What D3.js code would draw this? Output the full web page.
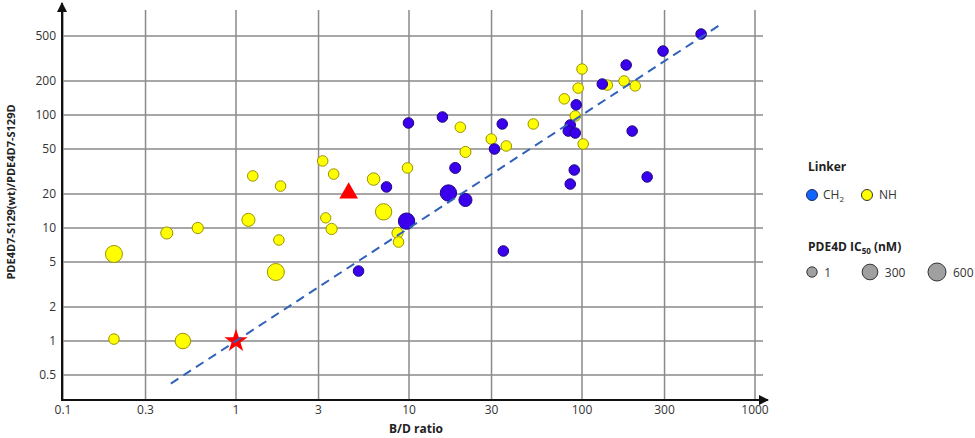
<!DOCTYPE html>
<html>
<head>
<meta charset="utf-8">
<script src="https://cdn.jsdelivr.net/npm/d3@7"></script>
<style>
  body { margin: 0; background: #fff; }
  svg { font-family: "Open Sans", "Noto Sans", sans-serif; }
</style>
</head>
<body>
<div id="chart"></div>
<script>
// B/D ratio, selectivity ratio, IC50 (nM)
var nhX  = [3.17, 3.67, 1.25, 1.81, 6.24, 7.13, 0.197, 0.398, 0.601, 1.18, 1.77, 1.70, 3.30, 3.57, 0.197, 0.493,
            8.58, 8.70, 100, 140, 175, 203, 95, 79, 91.4, 19.8, 52.3, 101.6, 29.9, 36.5, 21.2, 9.8];
var nhY  = [39.2, 30.0, 28.9, 23.5, 27.1, 13.9, 5.89, 9.03, 10.0, 11.8, 7.83, 4.08, 12.3, 9.8, 1.04, 1.0,
            9.03, 7.52, 255, 184, 200, 181, 173, 139, 98, 78, 83.3, 55.4, 61.3, 53.2, 47.1, 34.0];
var nhIC = [3, 3, 3, 3, 60, 380, 460, 40, 15, 90, 3, 460, 1, 15, 3, 280,
            12, 3, 3, 3, 3, 3, 3, 3, 3, 3, 3, 3, 3, 3, 10, 3];

var ch2X  = [488, 294, 180, 131, 92.6, 9.93, 15.6, 34.6, 85.5, 83.3, 91.4, 195, 31.2, 18.5, 90.2, 85.5,
             238, 7.41, 16.9, 21.2, 9.68, 35.1, 5.11];
var ch2Y  = [521, 368, 277, 188, 123, 85, 96, 83.3, 81.6, 72.1, 69.3, 72.1, 50.0, 34.0, 32.6, 24.5,
             28.3, 23.1, 20.4, 17.7, 11.5, 6.26, 4.16];
var ch2IC = [3, 3, 3, 3, 3, 3, 3, 3, 3, 3, 3, 3, 3, 10, 3, 3,
             3, 3, 380, 90, 380, 3, 3];

var refStar = [1, 1];
var refTriangle = [4.48, 20.8];
var trendX = [0.42, 650];

var xTicks = [0.1, 0.3, 1, 3, 10, 30, 100, 300, 1000];
var yTicks = [0.5, 1, 2, 5, 10, 20, 50, 100, 200, 500];
var sizeLegend = [1, 300, 600];

var width = 975, height = 438;
var x0 = 62, x1 = 755, yBottom = 400;

var x = d3.scaleLog().domain([0.1, 1000]).range([x0 + 1, x1]);
var y = d3.scaleLog().domain([1, 10]).range([341, 228]);
var r = d3.scaleSqrt().domain([0, 600]).range([5, 9]);

var svg = d3.select('#chart')
.append('svg')
  .attr('width', width)
  .attr('height', height);

// grid
svg.append('g').selectAll('line')
  .data(xTicks).enter()
.append('line')
  .attr('x1', function(d) { return x(d); })
  .attr('x2', function(d) { return x(d); })
  .attr('y1', 10)
  .attr('y2', yBottom)
  .style('stroke', '#8a8a8a')
  .style('stroke-width', 1.5);

svg.append('g').selectAll('line')
  .data(yTicks).enter()
.append('line')
  .attr('x1', x0)
  .attr('x2', 763)
  .attr('y1', function(d) { return y(d); })
  .attr('y2', function(d) { return y(d); })
  .style('stroke', '#8a8a8a')
  .style('stroke-width', 1.5);

// axes with arrows
var defs = svg.append('defs');
defs.append('marker')
  .attr('id', 'arrow')
  .attr('viewBox', '0 0 10 10')
  .attr('refX', 9).attr('refY', 5)
  .attr('markerWidth', 5).attr('markerHeight', 5)
  .attr('orient', 'auto')
.append('path')
  .attr('d', 'M0,0 L10,5 L0,10 Z')
  .style('fill', '#111');

svg.append('line')
  .attr('x1', x0).attr('x2', x0)
  .attr('y1', yBottom + 1).attr('y2', 3)
  .style('stroke', '#111').style('stroke-width', 2)
  .attr('marker-end', 'url(#arrow)');
svg.append('line')
  .attr('x1', x0 - 1).attr('x2', 768)
  .attr('y1', yBottom).attr('y2', yBottom)
  .style('stroke', '#111').style('stroke-width', 2)
  .attr('marker-end', 'url(#arrow)');

// tick labels
svg.append('g').selectAll('text')
  .data(xTicks).enter()
.append('text')
  .attr('x', function(d) { return x(d); })
  .attr('y', 414)
  .attr('text-anchor', 'middle')
  .style('font-size', '12px')
  .style('fill', '#333')
  .text(function(d) { return d; });

svg.append('g').selectAll('text')
  .data(yTicks).enter()
.append('text')
  .attr('x', 56)
  .attr('y', function(d) { return y(d) + 4; })
  .attr('text-anchor', 'end')
  .style('font-size', '12px')
  .style('fill', '#333')
  .text(function(d) { return d; });

// axis titles
svg.append('text')
  .attr('x', 389).attr('y', 433)
  .style('font-size', '12px').style('font-weight', 'bold')
  .style('fill', '#222')
  .text('B/D ratio');

svg.append('text')
  .attr('transform', 'translate(15,192) rotate(-90)')
  .attr('text-anchor', 'middle')
  .style('font-size', '11px').style('font-weight', 'bold')
  .style('fill', '#222')
  .text('PDE4D7-S129(wt)/PDE4D7-S129D');

// points
function drawPoints(xs, ys, ics, fill, stroke) {
  svg.append('g').selectAll('circle')
    .data(xs).enter()
  .append('circle')
    .attr('cx', function(d) { return x(d); })
    .attr('cy', function(d, i) { return y(ys[i]); })
    .attr('r', function(d, i) { return r(ics[i]); })
    .style('fill', fill)
    .style('stroke', stroke)
    .style('stroke-width', 1);
}
drawPoints(nhX, nhY, nhIC, '#ffff00', '#9a9400');
drawPoints(ch2X, ch2Y, ch2IC, '#3a00ee', '#1c0a80');

// reference compounds
svg.append('path')
  .attr('transform', 'translate(' + x(refStar[0]) + ',' + y(refStar[1]) + ')')
  .attr('d', d3.symbol().type(d3.symbolStar).size(170))
  .style('fill', '#ff0000');
svg.append('path')
  .attr('transform', 'translate(' + x(refTriangle[0]) + ',' + (y(refTriangle[1]) + 1) + ')')
  .attr('d', d3.symbol().type(d3.symbolTriangle).size(150))
  .style('fill', '#ff0000');

// y = x trend line
svg.append('line')
  .attr('x1', x(trendX[0])).attr('y1', y(trendX[0]))
  .attr('x2', x(trendX[1])).attr('y2', y(trendX[1]))
  .style('stroke', '#2f62b8')
  .style('stroke-width', 2)
  .style('stroke-dasharray', '9,6');

// legend
var leg = svg.append('g');
leg.append('text')
  .attr('x', 808).attr('y', 171)
  .style('font-size', '12px').style('font-weight', 'bold').style('fill', '#222')
  .text('Linker');
leg.append('circle').attr('cx', 812).attr('cy', 195).attr('r', 5.5)
  .style('fill', '#1166ff').style('stroke', '#1a2a60');
var ch2 = leg.append('text').attr('x', 823).attr('y', 199)
  .style('font-size', '12px').style('fill', '#333');
ch2.append('tspan').text('CH');
ch2.append('tspan').attr('dy', 3).style('font-size', '8px').text('2');
leg.append('circle').attr('cx', 867).attr('cy', 195).attr('r', 5.5)
  .style('fill', '#ffff00').style('stroke', '#333');
leg.append('text').attr('x', 879).attr('y', 199)
  .style('font-size', '12px').style('fill', '#333')
  .text('NH');

var ic = leg.append('text')
  .attr('x', 808).attr('y', 251)
  .style('font-size', '12px').style('font-weight', 'bold').style('fill', '#222');
ic.append('tspan').text('PDE4D IC');
ic.append('tspan').attr('dy', 3).style('font-size', '8px').text('50');
ic.append('tspan').attr('dy', -3).text(' (nM)');

var sizeX = [812, 870, 937];
leg.selectAll('.sz')
  .data(sizeLegend).enter()
.append('circle')
  .attr('cx', function(d, i) { return sizeX[i]; })
  .attr('cy', 272)
  .attr('r', function(d) { return r(d); })
  .style('fill', '#a0a0a0')
  .style('stroke', '#333');
leg.selectAll('.szt')
  .data(sizeLegend).enter()
.append('text')
  .attr('x', function(d, i) { return sizeX[i] + r(d) + 7; })
  .attr('y', 277)
  .style('font-size', '12px').style('fill', '#333')
  .text(function(d) { return d; });
</script>
</body>
</html>
